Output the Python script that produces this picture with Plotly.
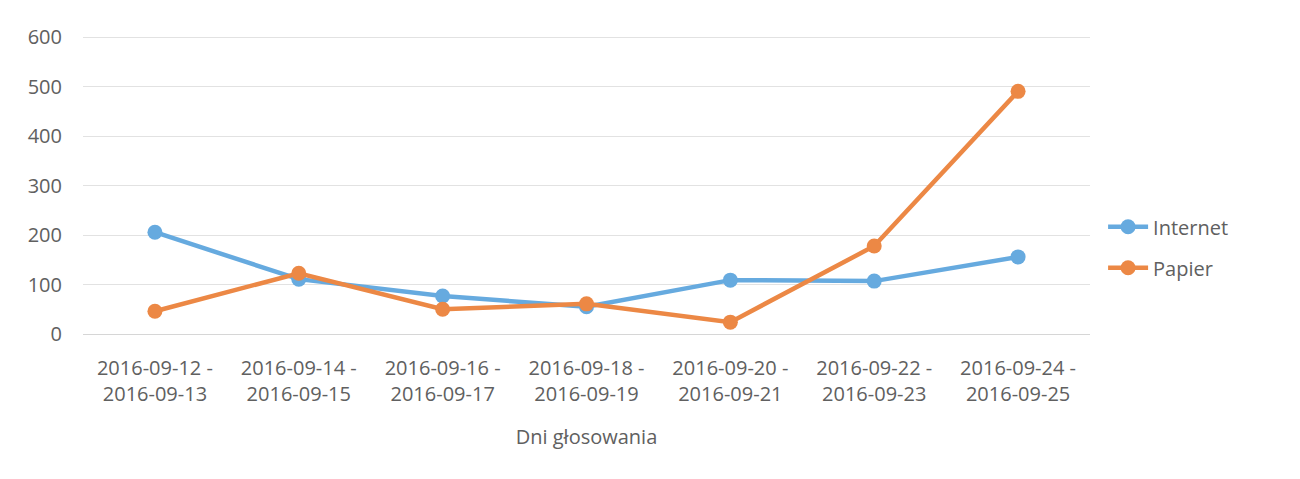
import plotly.graph_objects as go

categories = [
    "2016-09-12 -<br>2016-09-13",
    "2016-09-14 -<br>2016-09-15",
    "2016-09-16 -<br>2016-09-17",
    "2016-09-18 -<br>2016-09-19",
    "2016-09-20 -<br>2016-09-21",
    "2016-09-22 -<br>2016-09-23",
    "2016-09-24 -<br>2016-09-25",
]
internet = [206, 111, 77, 55, 109, 107, 156]
papier = [46, 123, 50, 61, 24, 178, 491]
y_ticks = [0, 100, 200, 300, 400, 500, 600]

blue = "#66AADF"
orange = "#EC8845"
txt = "#606060"
font_family = "Open Sans, Noto Sans, sans-serif"

fig = go.Figure()
fig.add_trace(go.Scatter(
    x=categories, y=internet, name="Internet", mode="lines+markers",
    line=dict(color=blue, width=4.5), marker=dict(color=blue, size=15),
    legendgroup="a",
))
fig.add_trace(go.Scatter(
    x=categories, y=papier, name="Papier", mode="lines+markers",
    line=dict(color=orange, width=4.5), marker=dict(color=orange, size=15),
    legendgroup="b",
))

fig.update_layout(
    width=1300, height=479,
    margin=dict(l=75, r=218, t=27, b=153),
    paper_bgcolor="white", plot_bgcolor="white",
    font=dict(family=font_family, size=20, color=txt),
    showlegend=True,
    legend=dict(
        x=1.013, xanchor="left", y=0.29, yanchor="middle",
        font=dict(size=20, color=txt), tracegroupgap=12,
        itemwidth=40, bgcolor="rgba(0,0,0,0)",
    ),
    xaxis=dict(
        type="category", range=[-0.5, len(categories) - 0.5],
        showgrid=False, zeroline=False,
        showline=False, ticks="",
        tickfont=dict(size=20, color=txt),
        ticklabelstandoff=20,
        title=dict(text="Dni głosowania", font=dict(size=20, color=txt), standoff=23),
    ),
    yaxis=dict(
        range=[0, 605], tickvals=y_ticks,
        showgrid=True, gridcolor="#E2E2E2", gridwidth=1,
        zeroline=True, zerolinecolor="#D6D6D6", zerolinewidth=1,
        showline=False, ticks="",
        tickfont=dict(size=20, color=txt),
        ticklabelstandoff=20,
    ),
)

fig.write_html("out.html")
